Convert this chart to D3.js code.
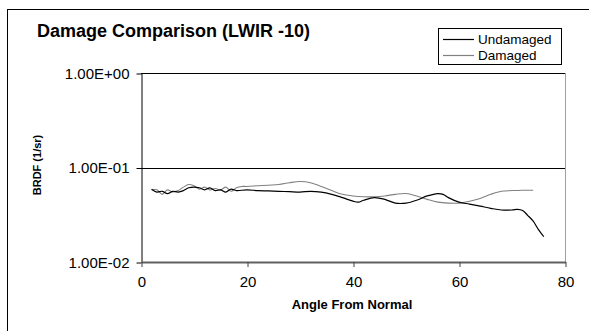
<!DOCTYPE html>
<html>
<head>
<meta charset="utf-8">
<script src="https://cdn.jsdelivr.net/npm/d3@7"></script>
<style>
  html, body { margin: 0; padding: 0; background: #fff; }
  svg { display: block; font-family: "Liberation Sans", Arial, sans-serif; }
</style>
</head>
<body>
<svg id="chart" width="589" height="331"></svg>
<script>
// Angles (degrees from normal) and BRDF readings (1/sr)
const undamagedAngle = [2,3,4,5,6,7,8,9,10,11,12,13,14,15,16,17,18,20,22,24,26,28,30,32,34,36,38,40,41,42,44,46,48,50,52,54,56,57,58,60,62,64,66,68,70,71,72,73,74,75,76];
const undamagedBRDF  = [0.059,0.055,0.056,0.053,0.056,0.055,0.057,0.061,0.062,0.061,0.058,0.061,0.057,0.058,0.055,0.059,0.057,0.058,0.057,0.0565,0.056,0.0555,0.055,0.056,0.055,0.052,0.048,0.044,0.043,0.045,0.048,0.046,0.042,0.042,0.045,0.050,0.053,0.052,0.048,0.043,0.041,0.039,0.037,0.0355,0.0355,0.036,0.035,0.031,0.027,0.022,0.0185];

const damagedAngle = [2,3,4,5,6,7,8,9,10,11,12,13,14,15,16,17,18,19,20,22,24,26,28,30,32,34,36,38,40,42,44,46,48,50,52,54,56,58,60,62,64,66,68,70,72,74];
const damagedBRDF  = [0.058,0.058,0.052,0.058,0.055,0.057,0.062,0.066,0.064,0.059,0.062,0.058,0.060,0.058,0.062,0.056,0.061,0.063,0.063,0.064,0.065,0.066,0.069,0.071,0.069,0.063,0.057,0.052,0.050,0.049,0.049,0.050,0.052,0.053,0.050,0.046,0.043,0.042,0.042,0.044,0.047,0.052,0.056,0.057,0.0575,0.0575];

const xTicks = [0, 20, 40, 60, 80];
const yTicks = [1, 0.1, 0.01];
const yTickLabels = ["1.00E+00", "1.00E-01", "1.00E-02"];

const seriesNames = ["Undamaged", "Damaged"];
const seriesColors = ["#000000", "#808080"];

const svg = d3.select("#chart");

// outer chart frame
svg.append("rect")
  .attr("x", 7.5).attr("y", 9.5)
  .attr("width", 640).attr("height", 400)
  .attr("fill", "#fff").attr("stroke", "#000").attr("stroke-width", 1);

const x = d3.scaleLinear().domain([0, 80]).range([141, 565]);
const y = d3.scaleLog().domain([0.01, 1]).range([262, 73]);

// plot area right border
svg.append("line")
  .attr("x1", 565.5).attr("x2", 565.5)
  .attr("y1", y(1)).attr("y2", y(0.01))
  .attr("stroke", "#a0a0a0").attr("stroke-width", 1);

// horizontal gridlines
svg.append("g")
  .selectAll("line")
  .data(yTicks.slice(0, 2))
  .join("line")
  .attr("x1", x(0)).attr("x2", x(80))
  .attr("y1", d => Math.round(y(d)) + 0.5)
  .attr("y2", d => Math.round(y(d)) + 0.5)
  .attr("stroke", "#000").attr("stroke-width", 1);

// y axis
const yAxis = d3.axisLeft(y)
  .tickValues(yTicks)
  .tickFormat((d, i) => yTickLabels[i])
  .tickSizeInner(5).tickSizeOuter(0).tickPadding(7);
const gy = svg.append("g")
  .attr("transform", `translate(${x(0) + 0.5},0.5)`)
  .call(yAxis);
gy.select(".domain").attr("stroke", "#000");
gy.selectAll(".tick line").attr("stroke", "#000");
gy.selectAll(".tick text")
  .attr("font-size", 15).attr("fill", "#000")
  .attr("font-family", "Liberation Sans, Arial, sans-serif");

// x axis
const xAxis = d3.axisBottom(x)
  .tickValues(xTicks)
  .tickSizeInner(5).tickSizeOuter(0).tickPadding(9);
const gx = svg.append("g")
  .attr("transform", `translate(0.5,${y(0.01)})`)
  .call(xAxis);
gx.select(".domain").attr("stroke", "#606060").attr("stroke-width", 2);
gx.selectAll(".tick line").attr("stroke", "#404040");
gx.selectAll(".tick text")
  .attr("font-size", 15).attr("fill", "#000")
  .attr("font-family", "Liberation Sans, Arial, sans-serif");

// data lines
const line = d3.line()
  .x(d => x(d[0]))
  .y(d => y(d[1]))
  .curve(d3.curveCatmullRom.alpha(0.5));

const damagedPts = damagedAngle.map((a, i) => [a, damagedBRDF[i]]);
const undamagedPts = undamagedAngle.map((a, i) => [a, undamagedBRDF[i]]);

svg.append("path")
  .datum(damagedPts)
  .attr("d", line)
  .attr("fill", "none")
  .attr("stroke", seriesColors[1]).attr("stroke-width", 1.1);

svg.append("path")
  .datum(undamagedPts)
  .attr("d", line)
  .attr("fill", "none")
  .attr("stroke", seriesColors[0]).attr("stroke-width", 1.2);

// title
svg.append("text")
  .attr("x", 37).attr("y", 37)
  .attr("font-size", 18).attr("font-weight", "bold")
  .text("Damage Comparison (LWIR -10)");

// axis titles
svg.append("text")
  .attr("x", 352).attr("y", 309)
  .attr("text-anchor", "middle")
  .attr("font-size", 13).attr("font-weight", "bold")
  .text("Angle From Normal");

svg.append("text")
  .attr("transform", "translate(41,165) rotate(-90)")
  .attr("text-anchor", "middle")
  .attr("font-size", 11).attr("font-weight", "bold")
  .text("BRDF (1/sr)");

// legend
const legend = svg.append("g");
legend.append("rect")
  .attr("x", 438.5).attr("y", 28.5)
  .attr("width", 123).attr("height", 36)
  .attr("fill", "#fff").attr("stroke", "#000");
seriesNames.forEach((name, i) => {
  const ly = 39 + i * 16;
  legend.append("line")
    .attr("x1", 443).attr("x2", 474)
    .attr("y1", ly + 0.5).attr("y2", ly + 0.5)
    .attr("stroke", seriesColors[i]).attr("stroke-width", 1.2);
  legend.append("text")
    .attr("x", 478).attr("y", ly + 5)
    .attr("font-size", 13.5)
    .text(name);
});
</script>
</body>
</html>
